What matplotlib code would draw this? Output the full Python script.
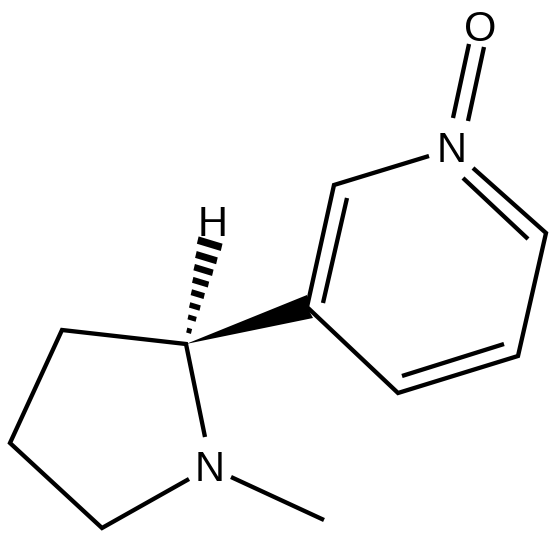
import matplotlib
matplotlib.use("Agg")
import matplotlib.pyplot as plt
import numpy as np
from matplotlib.patches import Polygon

plt.rcParams['font.family'] = ['Liberation Sans', 'DejaVu Sans']

# atom positions in pixels (y down)
C2 = (186, 344)
C3 = (62, 330)
C4 = (10, 443)
C5 = (102, 528)
C3p = (307, 307)
C2p = (334, 185)
C6p = (546, 233)
C5p = (518, 356)
C4p = (398, 393)

# open chains of single/outer bonds; ends are cut short where a label sits
pyrrolidine = [(205, 437), C2, C3, C4, C5, (189, 479)]
methyl = [(231, 477), (324, 520)]
pyridine = [(429, 156), C2p, C3p, C4p, C5p, C6p, (473, 168)]
inner_bonds = [[(347, 198), (323, 303)],
               [(402, 376), (504, 344)],
               [(463, 178), (528, 239)]]
n_oxide = [[(469, 44), (453, 118)],
           [(484, 47), (468, 121)]]

wedge = [C2, (307, 295), (307, 307), (313, 318)]

# hashed bond: position along the bond, length and thickness of each stripe
hash_end = (209.7, 243.7)
hash_frac = [0.132, 0.258, 0.374, 0.497, 0.616, 0.738, 0.861, 1.0]
hash_len = [5.0, 8.5, 11.0, 13.5, 16.5, 19.5, 22.0, 25.0]
hash_thick = [5.0, 5.0, 5.5, 6.0, 6.0, 6.5, 7.0, 7.5]

# labels sit on their baselines
labels = ["N", "N", "O", "H"]
label_x = [452, 210, 480, 213]
label_y = [162, 481, 41, 236]

LW = 3.1

fig = plt.figure(figsize=(5.56, 5.40), dpi=100)
ax = fig.add_axes([0, 0, 1, 1])
ax.set_xlim(0, 556)
ax.set_ylim(540, 0)
ax.axis("off")

for chain in [pyrrolidine, methyl, pyridine] + inner_bonds + n_oxide:
    xs, ys = zip(*chain)
    ax.plot(xs, ys, color="black", lw=LW, solid_joinstyle="miter", solid_capstyle="butt")

ax.add_patch(Polygon(wedge, closed=True, fc="black", ec="none"))

# stripes run at a slight slant across the hashed bond
apex = np.array(C2, float)
axis_vec = np.array(hash_end) - apex
along = axis_vec / np.linalg.norm(axis_vec)
across = np.array([0.957, 0.29])
for f, ln, th in zip(hash_frac, hash_len, hash_thick):
    c = apex + f * axis_vec
    pts = [c - across * ln / 2 - along * th / 2, c + across * ln / 2 - along * th / 2,
           c + across * ln / 2 + along * th / 2, c - across * ln / 2 + along * th / 2]
    ax.add_patch(Polygon(pts, closed=True, fc="black", ec="none"))

for s, x, y in zip(labels, label_x, label_y):
    ax.text(x, y, s, fontsize=30, color="black", ha="center", va="baseline")

fig.savefig("out.png", dpi=100)
